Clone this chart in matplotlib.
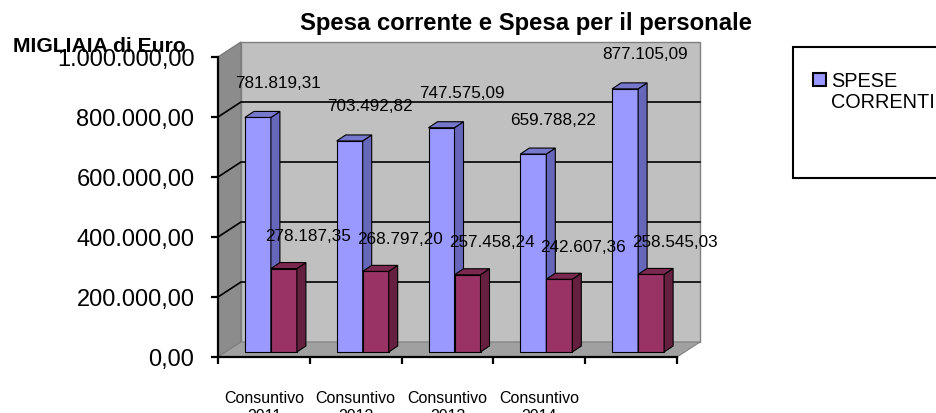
import matplotlib
matplotlib.use('Agg')
import matplotlib.pyplot as plt
from matplotlib.patches import Polygon, Rectangle

# dati (migliaia di euro)
categorie = ['Consuntivo\n2011', 'Consuntivo\n2012', 'Consuntivo\n2013', 'Consuntivo\n2014', '']
spese_correnti = [781819.31, 703492.82, 747575.09, 659788.22, 877105.09]
spese_personale = [278187.35, 268797.20, 257458.24, 242607.36, 258545.03]
valori_asse = [0, 200000, 400000, 600000, 800000, 1000000]


def euro(v):
    s = f'{v:,.2f}'
    return s.replace(',', '#').replace('.', ',').replace('#', '.')


plt.rcParams['font.family'] = ['Liberation Sans', 'DejaVu Sans']

W, H = 936, 414
fig = plt.figure(figsize=(W / 100, H / 100), dpi=100)


def rect_px(l, t, r, b):
    return [l / W, 1 - b / H, (r - l) / W, (b - t) / H]


# asse: x in categorie, y in euro
x0, y0, cat_px, mil_px = 218, 358, 91.8, 300
L, T, R, B = 200, 30, 715, 372
ax = fig.add_axes(rect_px(L, T, R, B))
ax.set_xlim((L - x0) / cat_px, (R - x0) / cat_px)
ax.set_ylim(-(B - y0) / mil_px * 1e6, (y0 - T) / mil_px * 1e6)
ax.patch.set_visible(False)

sx = cat_px
sy = mil_px / 1e6


def dpx(dx, dy):
    return dx / sx, dy / sy


n = len(categorie)
ymax = valori_asse[-1]
Dx, Dy = dpx(23, 15)

# pareti
ax.add_patch(Polygon([(0, 0), (Dx, Dy), (Dx, ymax + Dy), (0, ymax)],
                     facecolor='#8c8c8c', edgecolor='#7a7a7a', lw=1, zorder=1))
ax.add_patch(Polygon([(Dx, Dy), (n + Dx, Dy), (n + Dx, ymax + Dy), (Dx, ymax + Dy)],
                     facecolor='#c0c0c0', edgecolor='#808080', lw=1, zorder=1))
ax.add_patch(Polygon([(0, 0), (n, 0), (n + Dx, Dy), (Dx, Dy)],
                     facecolor='#a0a0a0', edgecolor='#808080', lw=0.8, zorder=1))
for v in valori_asse[1:-1]:
    ax.plot([0, Dx, n + Dx], [v, v + Dy, v + Dy], color='black', lw=1.2, zorder=2)

# barre 3D
bx, by = dpx(7, 5)
px_, py_ = dpx(9, 6)
w = 26 / cat_px


def barra(left, val, c_front, c_side, c_top):
    b = by
    t = by + val
    r = left + w
    ax.add_patch(Rectangle((left, b), w, val, facecolor=c_front, edgecolor='black', lw=0.8, zorder=3))
    ax.add_patch(Polygon([(r, b), (r + px_, b + py_), (r + px_, t + py_), (r, t)],
                         facecolor=c_side, edgecolor='black', lw=0.8, zorder=3))
    ax.add_patch(Polygon([(left, t), (r, t), (r + px_, t + py_), (left + px_, t + py_)],
                         facecolor=c_top, edgecolor='black', lw=0.8, zorder=3))


for i in range(n):
    c = i + 0.5 + bx
    barra(c - w, spese_correnti[i], '#9999ff', '#6666bb', '#7777cc')
    barra(c, spese_personale[i], '#993366', '#66203f', '#7a2850')
    ax.annotate(euro(spese_correnti[i]), (c - w / 2, by + spese_correnti[i]),
                xytext=(20 * 0.72, 35 * 0.72), textcoords='offset points',
                ha='center', va='center', fontsize=12.3, zorder=5)
    ax.annotate(euro(spese_personale[i]), (c + w / 2, by + spese_personale[i]),
                xytext=(24 * 0.72, 33 * 0.72), textcoords='offset points',
                ha='center', va='center', fontsize=12.3, zorder=5)

# assi frontali
for s in ['top', 'right']:
    ax.spines[s].set_visible(False)
ax.spines['left'].set_position(('data', 0))
ax.spines['left'].set_bounds(0, ymax)
ax.spines['left'].set_linewidth(1.6)
ax.spines['bottom'].set_position(('data', 0))
ax.spines['bottom'].set_bounds(0, n)
ax.spines['bottom'].set_linewidth(1.6)
ax.set_yticks(valori_asse)
ax.set_yticklabels([euro(v) for v in valori_asse], fontsize=17)
ax.tick_params(axis='y', direction='out', length=5, width=1.6, pad=12)
ax.set_xticks(range(n + 1))
ax.set_xticklabels([''] * (n + 1))
ax.tick_params(axis='x', which='major', direction='out', length=5, width=1.6)
ax.set_xticks([i + 0.5 for i in range(n)], minor=True)
ax.set_xticklabels(categorie, minor=True, fontsize=11.5)
ax.tick_params(axis='x', which='minor', length=0, pad=24)

# titoli
fig.text(526 / W, 1 - 30 / H, 'Spesa corrente e Spesa per il personale',
         ha='center', va='baseline', fontsize=17.2, fontweight='bold')
fig.text(13 / W, 1 - 52 / H, 'MIGLIAIA di Euro', ha='left', va='baseline',
         fontsize=15.2, fontweight='bold')

# legenda
fig.patches.append(Rectangle((793 / W, 1 - 179 / H), 200 / W, 131 / H, transform=fig.transFigure,
                             facecolor='white', edgecolor='black', lw=1.5, clip_on=False))
fig.patches.append(Rectangle((813 / W, 1 - 87 / H), 13 / W, 13 / H, transform=fig.transFigure,
                             facecolor='#9999ff', edgecolor='black', lw=1.5))
fig.text(831 / W, 1 - 87 / H, 'SPESE', ha='left', va='baseline', fontsize=14.3)
fig.text(831 / W, 1 - 108 / H, 'CORRENTI', ha='left', va='baseline', fontsize=14.3)

fig.savefig('out.png', dpi=100)
